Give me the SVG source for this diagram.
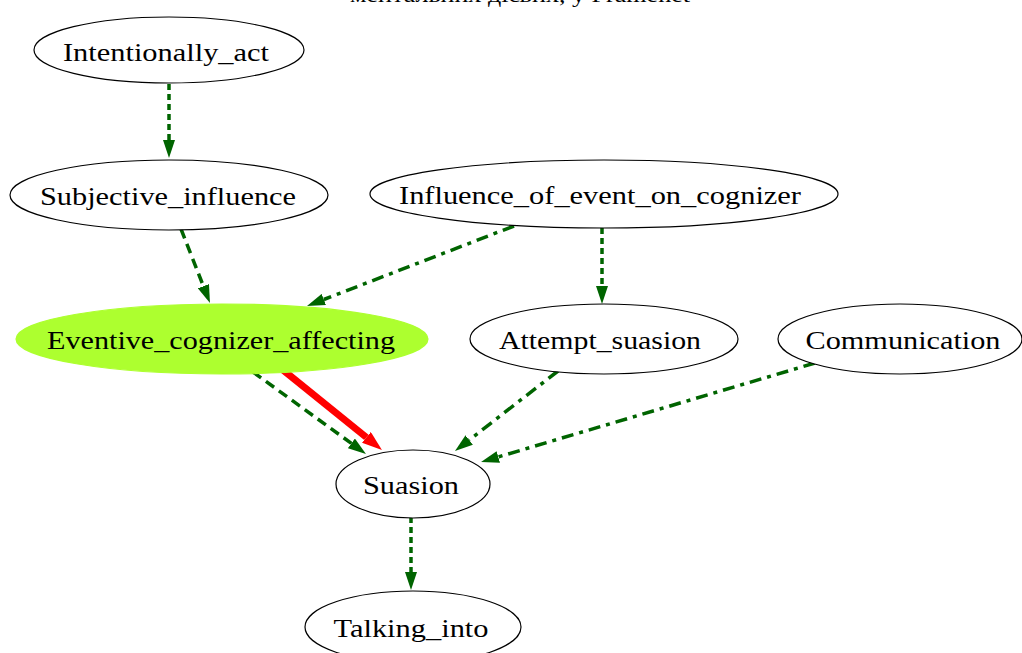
<svg xmlns="http://www.w3.org/2000/svg" width="1022" height="653" viewBox="0 0 1022 653">
<style>
.n ellipse{fill:#fff;stroke:#000;stroke-width:1.2}
.n text{font-family:"Liberation Serif","Times New Roman",serif;font-size:25px;fill:#000;text-anchor:middle}
.e{fill:none;stroke:#006400;stroke-width:3.5}
.dash{stroke-dasharray:10 6}
.dot{stroke-dasharray:6 4}
.dd{stroke-dasharray:12 6 4 6}
.red{fill:none;stroke:#ff0000;stroke-width:7}
</style>
<defs>
<marker id="ag" markerUnits="userSpaceOnUse" viewBox="0 0 18 12" markerWidth="18" markerHeight="12" refX="0" refY="6" orient="auto"><path d="M0,0 L18,6 L0,12 z" fill="#006400"/></marker>
<marker id="ar" markerUnits="userSpaceOnUse" viewBox="0 0 20 14" markerWidth="20" markerHeight="14" refX="0" refY="7" orient="auto"><path d="M0,0 L20,7 L0,14 z" fill="#ff0000"/></marker>
</defs>
<rect width="1022" height="653" fill="#fff"/>
<text x="520" y="2" font-family="Liberation Serif, serif" font-size="20" text-anchor="middle" textLength="340" lengthAdjust="spacingAndGlyphs">ментальних дієвих, у Framenet</text>
<g id="connectors">
<path class="e dot" d="M169,84 L169,140" marker-end="url(#ag)"/>
<path class="e dash" d="M181,229 L203.4,286.2" marker-end="url(#ag)"/>
<path class="e dd" d="M514,226 L323.8,299.5" marker-end="url(#ag)"/>
<path class="e dot" d="M602,228 L602,286" marker-end="url(#ag)"/>
<path class="e dash" d="M253,372 L351.4,443.4" marker-end="url(#ag)"/>
<path class="red" d="M283,370 L366.4,437.4" marker-end="url(#ar)"/>
<path class="e dd" d="M558,371 L469.2,440" marker-end="url(#ag)"/>
<path class="e dd" d="M815,363 L498.3,456.9" marker-end="url(#ag)"/>
<path class="e dot" d="M411,517 L411,572" marker-end="url(#ag)"/>
</g>
<g id="Intentionally_act" class="n"><ellipse cx="169" cy="50" rx="135" ry="33"/><text x="166" y="61" textLength="206" lengthAdjust="spacingAndGlyphs">Intentionally_act</text></g>
<g id="Subjective_influence" class="n"><ellipse cx="169" cy="195" rx="159" ry="35"/><text x="168" y="205" textLength="256" lengthAdjust="spacingAndGlyphs">Subjective_influence</text></g>
<g id="Influence_of_event_on_cognizer" class="n"><ellipse cx="604" cy="194" rx="234" ry="34"/><text x="600" y="204" textLength="402" lengthAdjust="spacingAndGlyphs">Influence_of_event_on_cognizer</text></g>
<g id="Eventive_cognizer_affecting" class="n"><ellipse cx="222" cy="339" rx="206" ry="35" style="fill:#adff2f;stroke:#adff2f"/><text x="221" y="349" textLength="348" lengthAdjust="spacingAndGlyphs">Eventive_cognizer_affecting</text></g>
<g id="Attempt_suasion" class="n"><ellipse cx="604" cy="339" rx="134" ry="35"/><text x="600" y="349" textLength="202" lengthAdjust="spacingAndGlyphs">Attempt_suasion</text></g>
<g id="Communication" class="n"><ellipse cx="900" cy="339" rx="122" ry="35"/><text x="903" y="349" textLength="195" lengthAdjust="spacingAndGlyphs">Communication</text></g>
<g id="Suasion" class="n"><ellipse cx="413" cy="484" rx="77" ry="34"/><text x="411" y="494" textLength="96" lengthAdjust="spacingAndGlyphs">Suasion</text></g>
<g id="Talking_into" class="n"><ellipse cx="413" cy="627" rx="108" ry="36"/><text x="411" y="637" textLength="155" lengthAdjust="spacingAndGlyphs">Talking_into</text></g>
</svg>
